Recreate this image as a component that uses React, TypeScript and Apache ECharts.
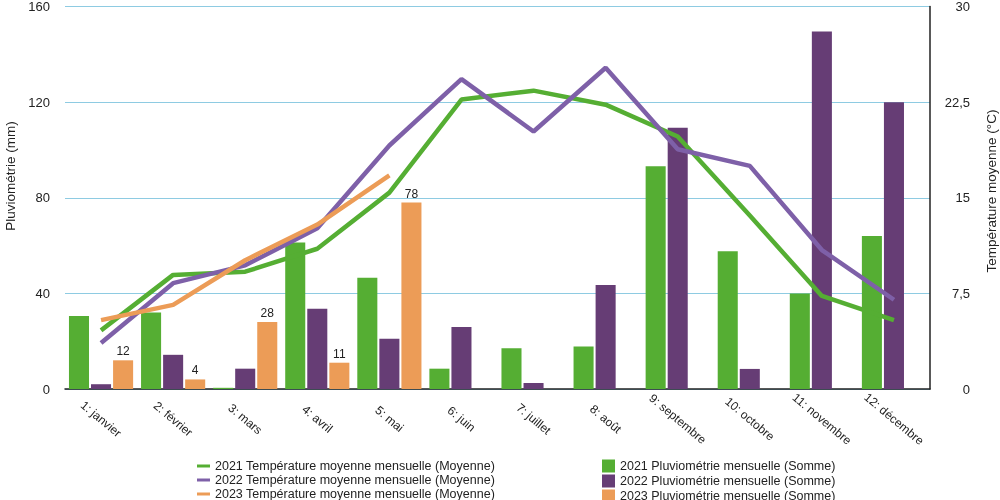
import React, { useEffect, useRef } from "react";
import * as echarts from "echarts";

const months = [
  "1: janvier", "2: février", "3: mars", "4: avril", "5: mai", "6: juin",
  "7: juillet", "8: août", "9: septembre", "10: octobre", "11: novembre", "12: décembre",
];

const rain2021 = [30.5, 32, 0.5, 61.3, 46.5, 8.5, 17, 17.8, 93.2, 57.6, 40, 64];
const rain2022 = [2, 14.3, 8.5, 33.6, 21, 25.9, 2.5, 43.5, 109.3, 8.4, 149.5, 120];
const rain2023 = [12, 4, 28, 11, 78, null, null, null, null, null, null, null];

const temp2021 = [4.6, 8.95, 9.2, 11.0, 15.4, 22.7, 23.4, 22.3, 19.8, 13.6, 7.3, 5.4];
const temp2022 = [3.6, 8.3, 9.7, 12.6, 19.1, 24.3, 20.2, 25.2, 18.8, 17.5, 10.9, 7.0];
const temp2023 = [5.4, 6.6, 10.1, 12.9, 16.75, null, null, null, null, null, null, null];

const rainTicks = { min: 0, max: 160, interval: 40 };
const tempTicks = { min: 0, max: 30, interval: 7.5 };

const lineNames = [
  "2021 Température moyenne mensuelle (Moyenne)",
  "2022 Température moyenne mensuelle (Moyenne)",
  "2023 Température moyenne mensuelle (Moyenne)",
];
const barNames = [
  "2021 Pluviométrie mensuelle (Somme)",
  "2022 Pluviométrie mensuelle (Somme)",
  "2023 Pluviométrie mensuelle (Somme)",
];

const GREEN = "#55ae33";
const PURPLE_BAR = "#663d75";
const PURPLE_LINE = "#7e60a8";
const ORANGE = "#ec9c57";
const FONT = "Liberation Sans, Arial, Helvetica, sans-serif";

export default function App() {
  const ref = useRef<HTMLDivElement>(null);

  useEffect(() => {
    if (!ref.current) return;
    const chart = echarts.init(ref.current, undefined, { renderer: "svg" });
    const lineSeries = (name: string, data: (number | null)[], color: string) => ({
      name,
      type: "line",
      yAxisIndex: 1,
      data,
      symbol: "none",
      showSymbol: false,
      connectNulls: false,
      lineStyle: { color, width: 4.5 },
      itemStyle: { color },
      z: 5,
    });
    const barSeries = (name: string, data: (number | null)[], color: string, label = false) => ({
      name,
      type: "bar",
      yAxisIndex: 0,
      data,
      barGap: "10%",
      barCategoryGap: "11%",
      itemStyle: { color },
      label: label
        ? { show: true, position: "top", distance: 3, fontSize: 12, color: "#222", fontFamily: FONT }
        : { show: false },
      z: 2,
    });
    const legendText = { fontSize: 12.5, color: "#222", fontFamily: FONT, lineHeight: 14 };
    chart.setOption({
      animation: false,
      textStyle: { fontFamily: FONT },
      grid: { left: 65, right: 70, top: 0.5, bottom: 111 },
      legend: [
        {
          orient: "vertical",
          left: 197,
          top: 459,
          height: 80,
          padding: 0,
          icon: "rect",
          itemWidth: 13,
          itemHeight: 3,
          itemGap: 0,
          textStyle: legendText,
          data: lineNames,
        },
        {
          orient: "vertical",
          left: 602,
          top: 459,
          height: 80,
          padding: 0,
          icon: "rect",
          itemWidth: 13,
          itemHeight: 13,
          itemGap: 1,
          textStyle: legendText,
          data: barNames,
        },
      ],
      xAxis: {
        type: "category",
        data: months,
        axisLine: { show: true, lineStyle: { color: "#222", width: 1.5 } },
        axisTick: { show: false },
        axisLabel: {
          rotate: -40,
          align: "center",
          verticalAlign: "middle",
          margin: 30,
          fontSize: 12,
          color: "#222",
          interval: 0,
          fontFamily: FONT,
        },
      },
      yAxis: [
        {
          type: "value",
          ...rainTicks,
          position: "left",
          axisLine: { show: false },
          axisTick: { show: false },
          splitLine: { show: true, lineStyle: { color: "#8ecbe2", width: 1 } },
          axisLabel: { fontSize: 13, color: "#222", margin: 15, fontFamily: FONT },
        },
        {
          type: "value",
          ...tempTicks,
          position: "right",
          axisLine: { show: true, lineStyle: { color: "#222", width: 1.5 } },
          axisTick: { show: false },
          splitLine: { show: false },
          axisLabel: {
            fontSize: 13,
            color: "#222",
            margin: 40,
            align: "right",
            fontFamily: FONT,
            formatter: (v: number) => String(v).replace(".", ","),
          },
        },
      ],
      graphic: [
        {
          type: "text",
          x: 10,
          y: 176,
          rotation: Math.PI / 2,
          style: {
            text: "Pluviométrie (mm)",
            fontSize: 13.5,
            fontFamily: FONT,
            fill: "#222",
            align: "center",
            verticalAlign: "middle",
          },
        },
        {
          type: "text",
          x: 991,
          y: 191,
          rotation: Math.PI / 2,
          style: {
            text: "Température moyenne (°C)",
            fontSize: 13.5,
            fontFamily: FONT,
            fill: "#222",
            align: "center",
            verticalAlign: "middle",
          },
        },
      ],
      series: [
        barSeries(barNames[0], rain2021, GREEN),
        barSeries(barNames[1], rain2022, PURPLE_BAR),
        barSeries(barNames[2], rain2023, ORANGE, true),
        lineSeries(lineNames[0], temp2021, GREEN),
        lineSeries(lineNames[1], temp2022, PURPLE_LINE),
        lineSeries(lineNames[2], temp2023, ORANGE),
      ],
    });
    return () => chart.dispose();
  }, []);

  return (
    <div
      ref={ref}
      style={{ position: "fixed", left: 0, top: 0, width: 1000, height: 500 }}
    />
  );
}
